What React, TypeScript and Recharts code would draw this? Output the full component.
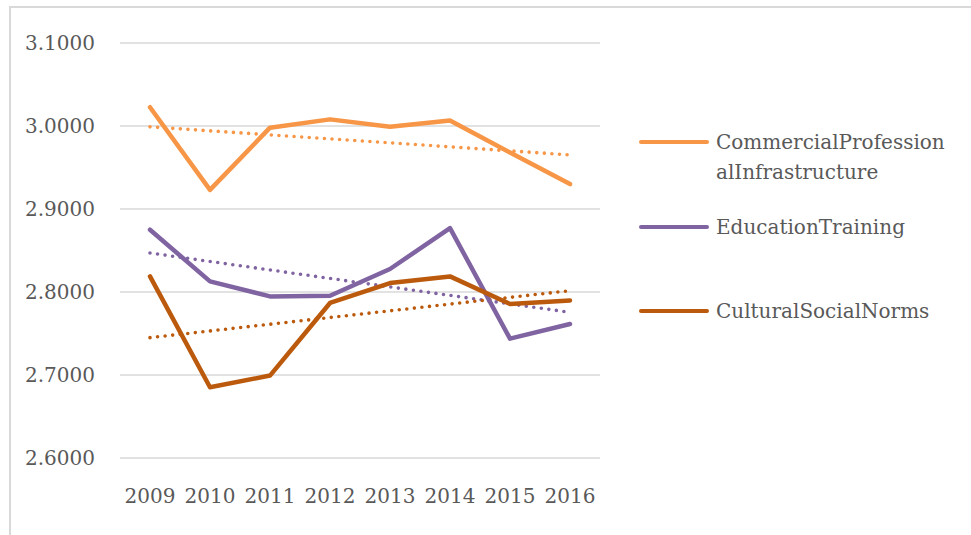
import { CartesianGrid, Line, LineChart, XAxis, YAxis } from 'recharts'

const years = ['2009', '2010', '2011', '2012', '2013', '2014', '2015', '2016']
const commercial = [3.0226, 2.923, 2.998, 3.008, 2.999, 3.0065, 2.968, 2.93]
const education = [2.875, 2.8128, 2.7947, 2.7955, 2.8277, 2.877, 2.7438, 2.7615]
const cultural = [2.8188, 2.6852, 2.6993, 2.7868, 2.8108, 2.8188, 2.7856, 2.7899]

// dotted trend lines, read at both ends
const commercialTrend = [2.999, null, null, null, null, null, null, 2.9652]
const educationTrend = [2.847, null, null, null, null, null, null, 2.7755]
const culturalTrend = [2.745, null, null, null, null, null, null, 2.8016]

const yTicks = [2.6, 2.7, 2.8, 2.9, 3.0, 3.1]

const series = [
  { key: 'CommercialProfessionalInfrastructure', label: ['CommercialProfession', 'alInfrastructure'], color: '#F79646' },
  { key: 'EducationTraining', label: ['EducationTraining'], color: '#8064A2' },
  { key: 'CulturalSocialNorms', label: ['CulturalSocialNorms'], color: '#BB5A0C' },
]

const data = years.map((year, i) => ({
  year,
  CommercialProfessionalInfrastructure: commercial[i],
  EducationTraining: education[i],
  CulturalSocialNorms: cultural[i],
  commercialTrend: commercialTrend[i],
  educationTrend: educationTrend[i],
  culturalTrend: culturalTrend[i],
}))

const font = '"DejaVu Serif", serif'
const textColor = '#595959'
const legendTops = [127, 212, 296]

function LegendBox() {
  return (
    <div style={{ fontFamily: font, fontSize: 20, color: textColor }}>
      {series.map((s, i) => (
        <div key={s.key} style={{ position: 'absolute', top: legendTops[i], left: 639, display: 'flex' }}>
          <div style={{ width: 70, height: 30, display: 'flex', alignItems: 'center' }}>
            <div style={{ width: 70, height: 4, borderRadius: 2, background: s.color }} />
          </div>
          <div style={{ marginLeft: 7, lineHeight: '30px', whiteSpace: 'nowrap' }}>
            {s.label.map((l) => (
              <div key={l}>{l}</div>
            ))}
          </div>
        </div>
      ))}
    </div>
  )
}

const trendProps = {
  strokeWidth: 3.6,
  strokeDasharray: '0 7.6',
  strokeLinecap: 'round' as const,
  dot: false,
  activeDot: false,
  connectNulls: true,
  isAnimationActive: false,
}

export default function App() {
  return (
    <div style={{ position: 'absolute', left: 0, top: 0, width: 971, height: 535, background: '#fff', overflow: 'hidden' }}>
      <div
        style={{
          position: 'absolute',
          left: 9,
          top: 6,
          width: 980,
          height: 560,
          borderTop: '2px solid #D9D9D9',
          borderLeft: '2px solid #D9D9D9',
        }}
      />
      <div style={{ position: 'absolute', left: 0, top: 0 }}>
        <LineChart width={971} height={535} data={data} margin={{ top: 43, right: 371, left: 0, bottom: 0 }}>
          <CartesianGrid vertical={false} stroke="#D9D9D9" strokeWidth={1.5} />
          <XAxis
            dataKey="year"
            padding={{ left: 30, right: 30 }}
            axisLine={false}
            tickLine={false}
            tickSize={0}
            tickMargin={31}
            height={77}
            interval={0}
            tick={{ fill: textColor, fontSize: 20, fontFamily: font }}
          />
          <YAxis
            domain={[2.6, 3.1]}
            ticks={yTicks}
            width={120}
            axisLine={false}
            tickLine={false}
            tickSize={0}
            tickMargin={25}
            tickFormatter={(v: number) => v.toFixed(4)}
            tick={{ fill: textColor, fontSize: 20, fontFamily: font }}
          />
          <Line dataKey="commercialTrend" stroke="#F79646" {...trendProps} />
          <Line dataKey="educationTrend" stroke="#8064A2" {...trendProps} />
          <Line dataKey="culturalTrend" stroke="#BB5A0C" {...trendProps} />
          {series.map((s) => (
            <Line
              key={s.key}
              dataKey={s.key}
              stroke={s.color}
              strokeWidth={4.5}
              strokeLinecap="round"
              strokeLinejoin="round"
              dot={false}
              activeDot={false}
              isAnimationActive={false}
            />
          ))}
        </LineChart>
      </div>
      <LegendBox />
    </div>
  )
}
